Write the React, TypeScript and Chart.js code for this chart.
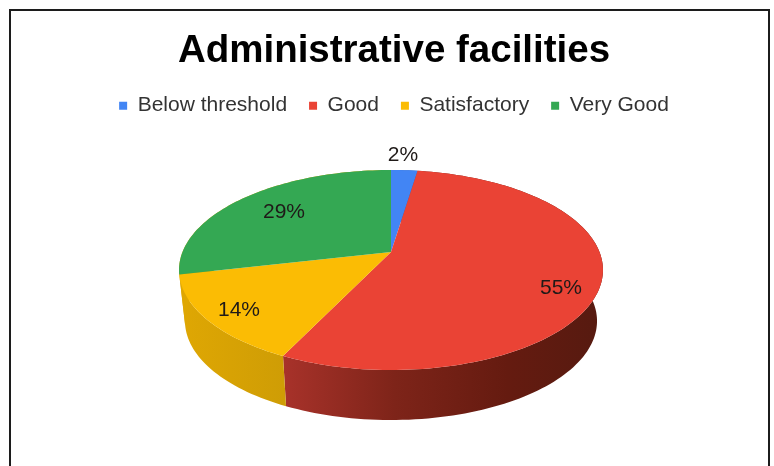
import React, { useEffect, useRef } from "react";
import { Chart, registerables } from "chart.js";

Chart.register(...registerables);

const categories = ["Below threshold", "Good", "Satisfactory", "Very Good"];
const shares = [2.4, 54.8, 14.3, 28.6];
const sliceColors = ["#4285f4", "#ea4335", "#fbbc04", "#34a853"];
const wallStops: [number, string][][] = [
  [[0, "#2f63b8"], [1, "#2f63b8"]],
  [[0, "#a8322a"], [0.35, "#7e2419"], [0.7, "#651b10"], [1, "#561a10"]],
  [[0, "#dfa703"], [1, "#cf9d05"]],
  [[0, "#dfa703"], [1, "#dfa703"]],
];
const labelSpots: [number, number][] = [
  [403, 155],
  [561, 288],
  [239, 310],
  [284, 212],
];

// Perspective projection of the unit disc onto the tilted pie's top face.
const apex = { x: 391, y: 252 };
const persp = { bx: 208.5, ay: 96.76, k: -0.18 };
const wall = { shrink: 0.972, cy: 270, drop: 51, yScale: 0.99 };

function project(theta: number, r = 1) {
  const u = r * Math.cos(theta);
  const v = r * Math.sin(theta);
  const d = 1 + persp.k * v;
  return { x: apex.x + (persp.bx * u) / d, y: apex.y + (persp.ay * v) / d };
}
function lower(p: { x: number; y: number }) {
  return {
    x: apex.x + (p.x - apex.x) * wall.shrink,
    y: wall.cy + wall.drop + (p.y - wall.cy) * wall.yScale,
  };
}
function rim(start: number, end: number) {
  const n = Math.max(2, Math.ceil(((end - start) / (Math.PI * 2)) * 240));
  const pts = [];
  for (let i = 0; i <= n; i++) pts.push(project(start + ((end - start) * i) / n));
  return pts;
}

const piePlugin = {
  id: "tiltedPie",
  beforeDraw(chart: any) {
    const { ctx, width, height } = chart;
    ctx.save();
    ctx.fillStyle = "#ffffff";
    ctx.fillRect(0, 0, width, height);
    ctx.strokeStyle = "#1c1c1c";
    ctx.lineWidth = 2;
    ctx.beginPath();
    ctx.moveTo(10, height);
    ctx.lineTo(10, 10);
    ctx.lineTo(769, 10);
    ctx.lineTo(769, height);
    ctx.stroke();
    ctx.restore();
  },
  beforeDatasetDraw(chart: any) {
    const { ctx } = chart;
    const arcs = chart.getDatasetMeta(0).data;
    ctx.save();
    // side wall first: the top face covers whatever lies behind it
    arcs.forEach((arc: any, i: number) => {
      const pts = rim(arc.startAngle, arc.endAngle);
      const low = pts.map(lower).reverse();
      const xs = pts.map((p) => p.x);
      const grad = ctx.createLinearGradient(Math.min(...xs), 0, Math.max(...xs), 0);
      wallStops[i].forEach(([o, c]) => grad.addColorStop(o, c));
      ctx.fillStyle = grad;
      ctx.beginPath();
      [...pts, ...low].forEach((p, j) => (j ? ctx.lineTo(p.x, p.y) : ctx.moveTo(p.x, p.y)));
      ctx.closePath();
      ctx.fill();
    });
    // top face
    arcs.forEach((arc: any, i: number) => {
      const pts = rim(arc.startAngle, arc.endAngle);
      ctx.fillStyle = sliceColors[i];
      ctx.beginPath();
      ctx.moveTo(apex.x, apex.y);
      pts.forEach((p) => ctx.lineTo(p.x, p.y));
      ctx.closePath();
      ctx.fill();
    });
    // value labels
    ctx.fillStyle = "#1f1a18";
    ctx.font = '21px "Liberation Sans"';
    ctx.textAlign = "center";
    ctx.textBaseline = "middle";
    shares.forEach((s, i) => {
      ctx.fillText(`${Math.round(s)}%`, labelSpots[i][0], labelSpots[i][1]);
    });
    ctx.restore();
    return false;
  },
};

export default function App() {
  const ref = useRef<HTMLCanvasElement>(null);
  useEffect(() => {
    const chart = new Chart(ref.current!, {
      type: "pie",
      data: {
        labels: categories,
        datasets: [{ data: shares, backgroundColor: sliceColors, borderWidth: 0 }],
      },
      options: {
        responsive: false,
        animation: false,
        layout: { padding: { top: 28, left: 14 } },
        plugins: {
          title: {
            display: true,
            text: "Administrative facilities",
            color: "#000000",
            font: { family: '"Liberation Sans"', size: 38.5, weight: "bold" },
            padding: { top: 0, bottom: -1 },
          },
          legend: {
            position: "top",
            labels: {
              color: "#333333",
              font: { family: '"Liberation Sans"', size: 21 },
              boxWidth: 8,
              boxHeight: 8,
              padding: 22,
            },
          },
          tooltip: { enabled: false },
        },
      },
      plugins: [piePlugin],
    } as any);
    return () => chart.destroy();
  }, []);
  return (
    <div style={{ position: "absolute", left: 0, top: 0, width: 774, height: 466 }}>
      <canvas ref={ref} width={774} height={466} style={{ display: "block", filter: "blur(0.7px)" }} />
    </div>
  );
}
